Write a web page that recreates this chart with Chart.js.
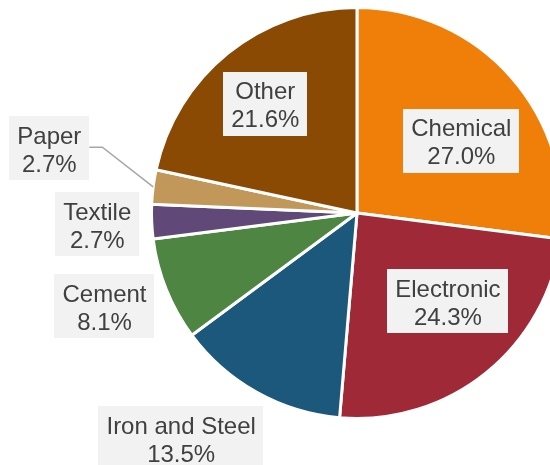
<!DOCTYPE html>
<html>
<head>
<meta charset="utf-8">
<script src="https://cdn.jsdelivr.net/npm/chart.js@4.4.1/dist/chart.umd.min.js"></script>
<style>
  html, body { margin: 0; padding: 0; background: #fff; overflow: hidden; }
  #wrap { position: relative; width: 570px; height: 465px; }
</style>
</head>
<body>
<div id="wrap"><canvas id="grafico" width="570" height="465"></canvas></div>
<script>
// Participação por setor (%), no sentido horário a partir do topo
const setores = ["Chemical", "Electronic", "Iron and Steel", "Cement", "Textile", "Paper", "Other"];
const percentuais = [27.0, 24.3, 13.5, 8.1, 2.7, 2.7, 21.6];
const cores = ["#F07F09", "#9F2936", "#1B587C", "#4E8542", "#604878", "#C19859", "#8B4A04"];

// Onde cada rótulo fica: fração do raio e ajuste do ângulo (graus) em relação ao meio da fatia
const posRotulos = [
  { f: 0.617, ajuste: 6.7 },
  { f: 0.617, ajuste: -6.9 },
  { f: 1.39, ajuste: 8.8 },
  { f: 1.31, ajuste: 1.6 },
  { f: 1.265, ajuste: 0 },
  { f: 1.53, ajuste: 4.6, guia: true },
  { f: 0.694, ajuste: -1.1 }
];

const rotulos = {
  id: "rotulos",
  afterDatasetsDraw(chart) {
    const ctx = chart.ctx;
    const arcos = chart.getDatasetMeta(0).data;
    ctx.save();
    ctx.font = "24px 'Liberation Sans', Arial, sans-serif";
    ctx.textAlign = "center";
    ctx.textBaseline = "alphabetic";
    arcos.forEach((arco, i) => {
      const p = posRotulos[i];
      const meio = (arco.startAngle + arco.endAngle) / 2;
      const ang = meio + p.ajuste * Math.PI / 180;
      const cx = arco.x + Math.cos(ang) * arco.outerRadius * p.f;
      const cy = arco.y + Math.sin(ang) * arco.outerRadius * p.f;
      const linhas = [setores[i], percentuais[i].toFixed(1) + "%"];
      const larg = Math.max(...linhas.map((l) => ctx.measureText(l).width)) + 16;
      const alt = 64;

      if (p.guia) {
        // linha guia até a borda da fatia
        const bx = arco.x + Math.cos(meio) * arco.outerRadius;
        const by = arco.y + Math.sin(meio) * arco.outerRadius;
        ctx.strokeStyle = "#A6A6A6";
        ctx.lineWidth = 1.5;
        ctx.beginPath();
        ctx.moveTo(cx + larg / 2, cy - 1);
        ctx.lineTo(cx + larg / 2 + 13, cy - 1);
        ctx.lineTo(bx, by);
        ctx.stroke();
      }

      ctx.fillStyle = "#F2F2F2";
      ctx.fillRect(Math.round(cx - larg / 2), Math.round(cy - alt / 2), Math.round(larg), alt);
      ctx.fillStyle = "#404040";
      ctx.fillText(linhas[0], cx, cy - 4.5);
      ctx.fillText(linhas[1], cx, cy + 23.5);
    });
    ctx.restore();
  }
};

new Chart(document.getElementById("grafico"), {
  type: "pie",
  data: {
    labels: setores,
    datasets: [{
      data: percentuais,
      backgroundColor: cores,
      borderColor: "#FFFFFF",
      borderWidth: 3
    }]
  },
  options: {
    responsive: false,
    animation: false,
    layout: { padding: { left: 150, right: 6, top: 6, bottom: 45 } },
    plugins: { legend: { display: false }, tooltip: { enabled: false } }
  },
  plugins: [rotulos]
});
</script>
</body>
</html>
